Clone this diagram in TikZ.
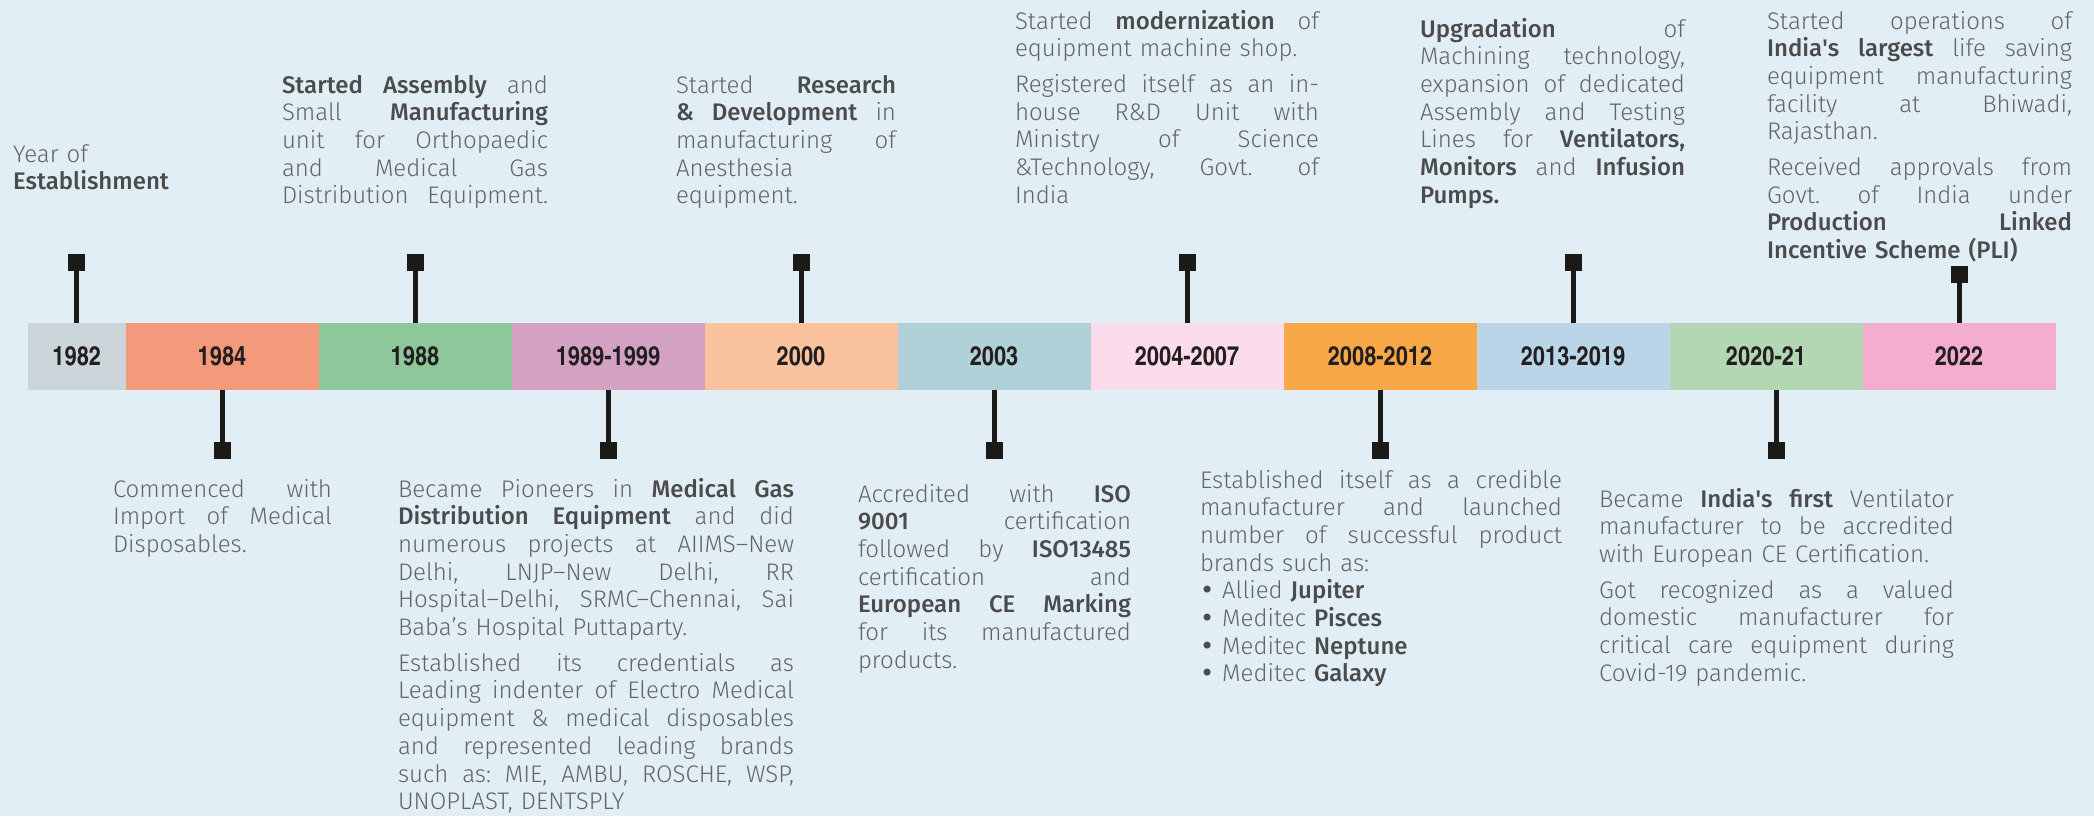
\documentclass[tikz,border=0pt]{standalone}
\usepackage{fontspec}
\usetikzlibrary{positioning}
\IfFontExistsTF{Fira Sans Light}
  {\IfFontExistsTF{Fira Sans Medium}
    {\setmainfont{Fira Sans Light}[BoldFont={Fira Sans Medium}]}
    {\setmainfont{Fira Sans Light}[BoldFont={Fira Sans}]}}
  {\setmainfont{Fira Sans}}
\IfFontExistsTF{TeX Gyre Heros Cn}
  {\newfontfamily\yearfont{TeX Gyre Heros Cn}}
  {\newfontfamily\yearfont{TeX Gyre Heros}[FakeStretch=0.82]}
\newfontfamily\bulletfont{DejaVu Sans}
\definecolor{bg}{HTML}{E1EEF6}
\definecolor{c1982}{HTML}{CCD5DA}
\definecolor{c1984}{HTML}{F39A7C}
\definecolor{c1988}{HTML}{8EC89A}
\definecolor{c1989}{HTML}{D3A2C3}
\definecolor{c2000}{HTML}{FBC39D}
\definecolor{c2003}{HTML}{B0D1D8}
\definecolor{c2004}{HTML}{FCDCEB}
\definecolor{c2008}{HTML}{F8A846}
\definecolor{c2013}{HTML}{B9D5E7}
\definecolor{c2020}{HTML}{B3D7B3}
\definecolor{c2022}{HTML}{F4ADCF}
\definecolor{mark}{HTML}{1C1A17}
\definecolor{yeartxt}{HTML}{231F20}
\definecolor{txt}{HTML}{646464}
\definecolor{txtbold}{HTML}{4B4B4B}
\newcommand{\kw}[1]{{\bfseries\color{txtbold}#1}}
% a line spread to the full width of its block
\newcommand{\jl}[1]{{\spaceskip=.3em plus 1fil\makebox[\hsize][s]{#1}}}
\newcommand{\bul}{{\bulletfont\color{txtbold}\textbullet}}

\begin{document}
\begin{tikzpicture}[x=0.5pt,y=0.5pt]
        \tikzstyle{every node}+=[inner sep=0pt, outer sep=0pt]
        \tikzstyle{seg}=[minimum height=33.5pt, minimum width=96.5pt, text=yeartxt,
            font={\yearfont\bfseries\fontsize{13.3pt}{14pt}\selectfont}]
        \tikzstyle{sq}=[fill=mark, minimum size=8.5pt]
        \tikzstyle{stem}=[draw=mark, line width=2.5pt]
        \tikzstyle{blurb}=[anchor=base west, align=left, text=txt,
            font={\fontsize{12pt}{13.85pt}\selectfont\frenchspacing}]
        \useasboundingbox (0,0) rectangle (2094,-816);
        \fill [bg] (0,0) rectangle (2094,-816);
        % the bar
        \node [seg, fill=c1982, minimum width=48.75pt] (y1982) at (76.75,-356.5) {1982};
        \node [seg, fill=c1984, right=0pt of y1982] (y1984) {1984};
        \node [seg, fill=c1988, right=0pt of y1984] (y1988) {1988};
        \node [seg, fill=c1989, right=0pt of y1988] (y1989) {1989-1999};
        \node [seg, fill=c2000, right=0pt of y1989] (y2000) {2000};
        \node [seg, fill=c2003, right=0pt of y2000] (y2003) {2003};
        \node [seg, fill=c2004, right=0pt of y2003] (y2004) {2004-2007};
        \node [seg, fill=c2008, right=0pt of y2004] (y2008) {2008-2012};
        \node [seg, fill=c2013, right=0pt of y2008] (y2013) {2013-2019};
        \node [seg, fill=c2020, right=0pt of y2013] (y2020) {2020-21};
        \node [seg, fill=c2022, right=0pt of y2020] (y2022) {2022};
        % markers above
        \node [sq, above=26pt of y1982] (m1982) {};
        \node [sq, above=26pt of y1988] (m1988) {};
        \node [sq, above=26pt of y2000] (m2000) {};
        \node [sq, above=26pt of y2004] (m2004) {};
        \node [sq, above=26pt of y2013] (m2013) {};
        \node [sq, above=20pt of y2022] (m2022) {};
        \draw [stem] (y1982.north) -- (m1982.south);
        \draw [stem] (y1988.north) -- (m1988.south);
        \draw [stem] (y2000.north) -- (m2000.south);
        \draw [stem] (y2004.north) -- (m2004.south);
        \draw [stem] (y2013.north) -- (m2013.south);
        \draw [stem] (y2022.north) -- (m2022.south);
        % markers below
        \node [sq, below=26pt of y1984] (m1984) {};
        \node [sq, below=26pt of y1989] (m1989) {};
        \node [sq, below=26pt of y2003] (m2003) {};
        \node [sq, below=26pt of y2008] (m2008) {};
        \node [sq, below=26pt of y2020, xshift=5pt] (m2020) {};
        \draw [stem] (y1984.south) -- (m1984.north);
        \draw [stem] (y1989.south) -- (m1989.north);
        \draw [stem] (y2003.south) -- (m2003.north);
        \draw [stem] (y2008.south) -- (m2008.north);
        \draw [stem] (m2020.north |- y2020.south) -- (m2020.north);
        % texts above
        \node [blurb, text width=80pt] (t1982) at (13,-162) {Year of\\ \kw{Establishment}};
        \node [blurb, text width=133pt] (t1988) at (282,-93) {%
            \jl{\kw{Started Assembly} and}\\
            \jl{Small \kw{Manufacturing}}\\
            \jl{unit for Orthopaedic}\\
            \jl{and Medical Gas}\\
            \jl{Distribution Equipment.}};
        \node [blurb, text width=110pt] (t2000) at (676,-93) {%
            \jl{Started \kw{Research}}\\
            \jl{\kw{\& Development} in}\\
            \jl{manufacturing of}\\
            Anesthesia\\
            equipment.};
        \node [blurb, text width=152pt] (t2004) at (1015,-29) {%
            \jl{Started \kw{modernization} of}\\
            equipment machine shop.\\[4pt]
            \jl{Registered itself as an in-}\\
            \jl{house R\&D Unit with}\\
            \jl{Ministry of Science}\\
            \jl{\&Technology, Govt. of}\\
            India};
        \node [blurb, text width=132.5pt] (t2013) at (1420,-37) {%
            \jl{\kw{Upgradation} of}\\
            \jl{Machining technology,}\\
            \jl{expansion of dedicated}\\
            \jl{Assembly and Testing}\\
            \jl{Lines for \kw{Ventilators,}}\\
            \jl{\kw{Monitors} and \kw{Infusion}}\\
            \kw{Pumps.}};
        \node [blurb, text width=152.5pt] (t2022) at (1767,-29) {%
            \jl{Started operations of}\\
            \jl{\kw{India\textquotesingle s largest} life saving}\\
            \jl{equipment manufacturing}\\
            \jl{facility at Bhiwadi,}\\
            Rajasthan.\\[4pt]
            \jl{Received approvals from}\\
            \jl{Govt. of India under}\\
            \jl{\kw{Production Linked}}\\
            \kw{Incentive Scheme (PLI)}};
        % texts below
        \node [blurb, text width=109.5pt] (t1984) at (113,-497) {%
            \jl{Commenced with}\\
            \jl{Import of Medical}\\
            Disposables.};
        \node [blurb, text width=198pt] (t1989) at (398,-497) {%
            \jl{Became Pioneers in \kw{Medical Gas}}\\
            \jl{\kw{Distribution Equipment} and did}\\
            \jl{numerous projects at AIIMS--New}\\
            \jl{Delhi, LNJP--New Delhi, RR}\\
            \jl{Hospital--Delhi, SRMC--Chennai, Sai}\\
            Baba’s Hospital Puttaparty.\\[4pt]
            \jl{Established its credentials as}\\
            \jl{Leading indenter of Electro Medical}\\
            \jl{equipment \& medical disposables}\\
            \jl{and represented leading brands}\\
            \jl{such as: MIE, AMBU, ROSCHE, WSP,}\\
            UNOPLAST, DENTSPLY};
        \node [blurb, text width=136.5pt] (t2003) at (858,-502) {%
            \jl{Accredited with \kw{ISO}}\\
            \jl{\kw{9001} certification}\\
            \jl{followed by \kw{ISO13485}}\\
            \jl{certification and}\\
            \jl{\kw{European CE Marking}}\\
            \jl{for its manufactured}\\
            products.};
        \node [blurb, text width=181pt] (t2008) at (1200,-488) {%
            \jl{Established itself as a credible}\\
            \jl{manufacturer and launched}\\
            \jl{number of successful product}\\
            brands such as:\\
            \bul{} Allied \kw{Jupiter}\\
            \bul{} Meditec \kw{Pisces}\\
            \bul{} Meditec \kw{Neptune}\\
            \bul{} Meditec \kw{Galaxy}};
        \node [blurb, text width=177.5pt] (t2020) at (1599,-507) {%
            \jl{Became \kw{India\textquotesingle s first} Ventilator}\\
            \jl{manufacturer to be accredited}\\
            with European CE Certification.\\[4pt]
            \jl{Got recognized as a valued}\\
            \jl{domestic manufacturer for}\\
            \jl{critical care equipment during}\\
            Covid-19 pandemic.};
    \end{tikzpicture}
\end{document}
